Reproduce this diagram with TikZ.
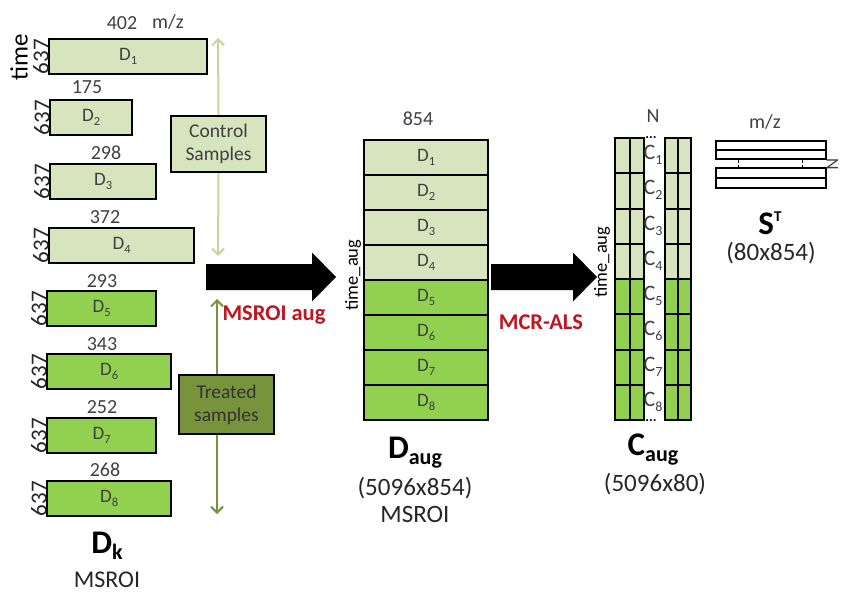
\documentclass[tikz,border=0pt]{standalone}
\usepackage{fontspec}
\setmainfont{Carlito}
\usetikzlibrary{arrows.meta}
\definecolor{lgreen}{HTML}{D7E4BD}
\definecolor{bgreen}{HTML}{92D050}
\definecolor{ogreen}{HTML}{77933C}
\definecolor{larrow}{HTML}{C3D69B}
\definecolor{redlbl}{HTML}{C0141E}
\definecolor{txt}{RGB}{64,64,64}
\newcommand\lsub[1]{\raisebox{-4pt}{\fontsize{12.5}{12.5}\selectfont #1}}
\newcommand\csub[1]{\raisebox{-5pt}{\fontsize{14}{14}\selectfont #1}}
\newcommand\bigsub[1]{\raisebox{-6pt}{\fontsize{22}{22}\bfseries\selectfont #1}}
\begin{document}
\begin{tikzpicture}[x=1pt,y=-1pt,
  box/.style={draw=black, line width=2.4pt, inner sep=0pt, minimum height=35pt, anchor=north west,
              font=\fontsize{19}{20}\selectfont, text=txt},
  lbox/.style={box, fill=lgreen},
  gbox/.style={box, fill=bgreen},
  cell/.style={draw=black, line width=2.2pt, inner sep=0pt, minimum height=35.25pt, anchor=north west},
  num/.style={font=\fontsize{20}{20}\selectfont, text=txt, inner sep=0pt},
  dimlbl/.style={font=\fontsize{23}{23}\selectfont, text=black!85, inner sep=0pt, rotate=90},
  biglbl/.style={font=\fontsize{33}{36}\bfseries\selectfont, inner sep=0pt},
  sublbl/.style={font=\fontsize{25}{26}\selectfont, text=black!85, inner sep=0pt},
  redlab/.style={font=\fontsize{22.5}{24}\bfseries\selectfont, text=redlbl, inner sep=0pt},
  sampbox/.style={draw=black, line width=2.4pt, align=center, inner sep=0pt,
                  font=\fontsize{19.5}{23}\selectfont, text=txt},
  carrow/.style={draw=larrow, line width=2pt, -{Straight Barb[length=6pt,width=12pt]}},
  tarrow/.style={draw=ogreen, line width=2pt, -{Straight Barb[length=6pt,width=12pt]}}
]
\useasboundingbox (0,0) rectangle (841,594);

% ---------- individual matrices D1..D8 ----------
\node[lbox, minimum width=158pt] (d1) at (48,38) {D\lsub{1}};
\node[lbox, minimum width=82pt]  (d2) at (49,99) {D\lsub{2}};
\node[lbox, minimum width=106pt] (d3) at (49,163) {D\lsub{3}};
\node[lbox, minimum width=145pt] (d4) at (48,227) {D\lsub{4}};
\node[gbox, minimum width=109pt] (d5) at (46,290) {D\lsub{5}};
\node[gbox, minimum width=124pt] (d6) at (46,353) {D\lsub{6}};
\node[gbox, minimum width=109pt] (d7) at (46,417) {D\lsub{7}};
\node[gbox, minimum width=124pt] (d8) at (46,480) {D\lsub{8}};

\node[num] (n1) at (122,23) {402};
\node[num] (mz1) at (168,22) {m/z};
\node[num] (n2) at (87,87) {175};
\node[num] (n3) at (106,153) {298};
\node[num] (n4) at (105,217) {372};
\node[num] (n5) at (102,281) {293};
\node[num] (n6) at (102,344) {343};
\node[num] (n7) at (102,407) {252};
\node[num] (n8) at (105,470) {268};

\foreach \k in {1,...,8} {
  \node[dimlbl] (t\k) at ([xshift=-7pt]d\k.west) {637};
}
\node[font=\fontsize{25}{25}\selectfont, rotate=90, inner sep=0pt] (time) at (19,57) {time};

\node[biglbl] (dk) at (107,546) {D\bigsub{k}};
\node[font=\fontsize{24}{25}\selectfont, text=black!85, inner sep=0pt] (dkm) at (107,580) {MSROI};

% ---------- sample groups ----------
\node[sampbox, fill=lgreen, minimum width=95pt, minimum height=56pt] (cs) at (218.5,144) {Control\\Samples};
\coordinate (ctop) at (218,38);
\coordinate (cbot) at (218,256);
\draw[carrow] (cs.north) -- (ctop);
\draw[carrow] (cs.south) -- (cbot);

\node[sampbox, fill=ogreen, text=black!80, minimum width=95pt, minimum height=59pt] (ts) at (226.5,404.5) {Treated\\samples};
\coordinate (ttop) at (217,299);
\coordinate (tbot) at (217,514);
\draw[tarrow] (ts.north -| ttop) -- (ttop);
\draw[tarrow] (ts.south -| tbot) -- (tbot);

% ---------- big arrows ----------
\coordinate (a1s) at (206,277);
\coordinate (a1e) at (336,277);
\fill (a1s) ++(0,-13) -- ++(106,0) -- ++(0,-11.5) -- (a1e) -- ++(-24,24.5) -- ++(0,-11.5) -- ++(-106,0) -- cycle;
\node[redlab] (msaug) at (274,315) {MSROI aug};

\coordinate (a2s) at (491,277);
\coordinate (a2e) at (597,277);
\fill (a2s) ++(0,-13) -- ++(82,0) -- ++(0,-11.5) -- (a2e) -- ++(-24,24.5) -- ++(0,-11.5) -- ++(-82,0) -- cycle;
\node[redlab] (mcr) at (541,322) {MCR-ALS};

% ---------- augmented matrix ----------
\foreach \i in {1,...,8} {
  \pgfmathsetmacro\yy{139+35*(\i-1)}
  \ifnum\i<5 \def\cf{lgreen}\else\def\cf{bgreen}\fi
  \node[box, fill=\cf, minimum width=124pt] (m\i) at (363,\yy) {D\lsub{\i}};
}
\node[num] (n854) at (418,119) {854};
\node[font=\fontsize{18.5}{18}\selectfont, rotate=90, inner sep=0pt] (taug1) at (353,275) {time\_aug};
\node[biglbl] (daug) at (415,453) {D\bigsub{aug}};
\node[sublbl] (daug2) at (415,488) {(5096x854)};
\node[sublbl] (daug3) at (415,514) {MSROI};

% ---------- C augmented ----------
\foreach \i in {1,...,8} {
  \pgfmathsetmacro\yy{137+35.25*(\i-1)}
  \pgfmathsetmacro\yc{137+35.25*(\i-1)+18}
  \ifnum\i<5 \def\cf{lgreen}\else\def\cf{bgreen}\fi
  \node[cell, fill=\cf, minimum width=29pt] (cl\i) at (614,\yy) {};
  \node[cell, fill=\cf, minimum width=26pt] (cr\i) at (664,\yy) {};
  \node[font=\fontsize{22}{22}\selectfont, text=txt, inner sep=0pt] (cc\i) at (653,\yc) {C\csub{\i}};
}
\draw[line width=2pt] (cl1.north) -- (cl8.south);
\draw[line width=2pt] (cr1.north) -- (cr8.south);
\node[font=\fontsize{14}{14}\bfseries\selectfont, inner sep=0pt, anchor=base] (dt1) at (651,139) {...};
\node[font=\fontsize{14}{14}\bfseries\selectfont, inner sep=0pt, anchor=base] (dt2) at (651,421) {...};
\node[num] (nN) at (653,116) {N};
\node[font=\fontsize{18.5}{18}\selectfont, rotate=90, inner sep=0pt] (taug2) at (602,262) {time\_aug};
\node[biglbl] (caug) at (653,450) {C\bigsub{aug}};
\node[sublbl] (caug2) at (655,484) {(5096x80)};

% ---------- S transposed ----------
\node[draw=black, line width=2pt, inner sep=0pt, minimum width=110pt, minimum height=18pt] (st1) at (771,150) {};
\node[draw=black, line width=2pt, inner sep=0pt, minimum width=110pt, minimum height=20pt] (st2) at (771,178) {};
\draw[line width=2pt] (st1.west) -- (st1.east);
\draw[line width=2pt] (st2.west) -- (st2.east);
\coordinate (sd1) at (738,0);
\coordinate (sd2) at (802,0);
\draw[densely dashed, line width=0.8pt] (st1.south -| sd1) -- (st2.north -| sd1);
\draw[densely dashed, line width=0.8pt] (st1.south -| sd2) -- (st2.north -| sd2);
\node[num] (mz2) at (765,122) {m/z};
\node[font=\fontsize{18}{18}\selectfont, text=txt, inner sep=0pt, rotate=-90] (nN2) at (832.5,164) {N};
\node[biglbl] (st) at (770,223) {S\raisebox{13pt}{\fontsize{15}{15}\selectfont T}};
\node[sublbl] (st3) at (771,253) {(80x854)};
\end{tikzpicture}
\end{document}
